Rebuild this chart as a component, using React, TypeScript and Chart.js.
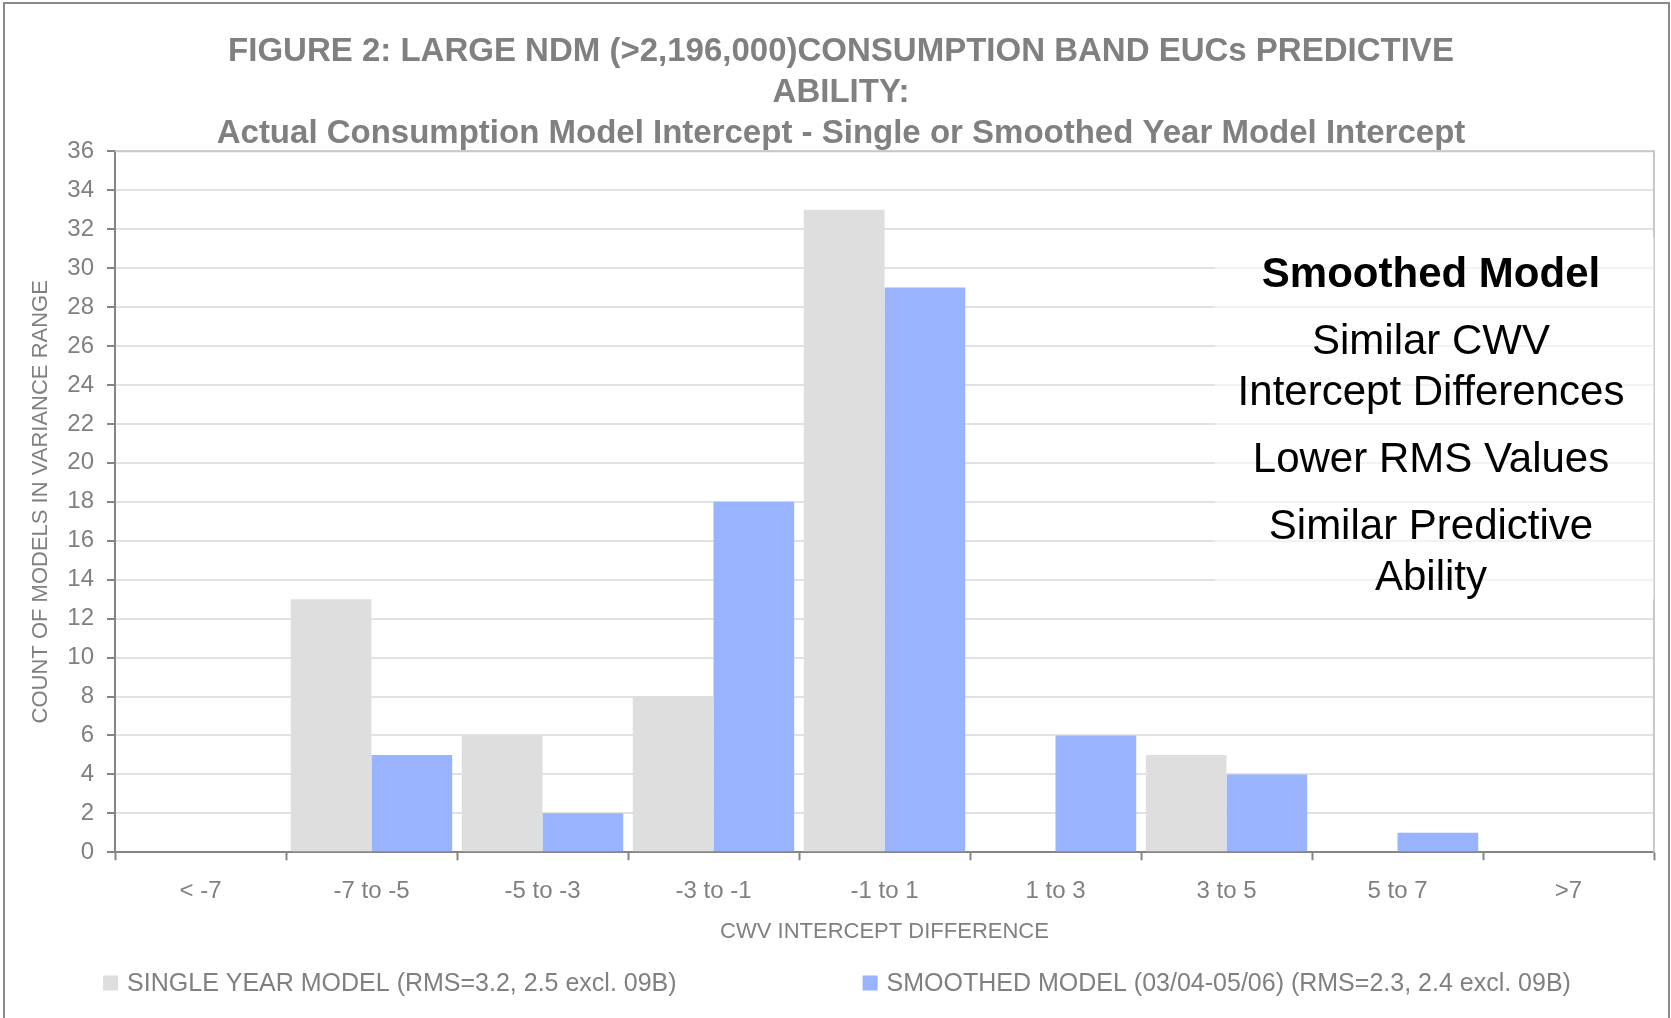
import React, { useEffect, useRef } from 'react';
import { Chart, registerables } from 'chart.js';

Chart.register(...registerables);

// ---- data ----
const categories = ['< -7', '-7 to -5', '-5 to -3', '-3 to -1', '-1 to 1', '1 to 3', '3 to 5', '5 to 7', '>7'];
const singleYearCounts = [0, 13, 6, 8, 33, 0, 5, 0, 0];
const smoothedCounts = [0, 5, 2, 18, 29, 6, 4, 1, 0];
const seriesLabels = [
  'SINGLE YEAR MODEL (RMS=3.2, 2.5 excl. 09B)',
  'SMOOTHED MODEL (03/04-05/06) (RMS=2.3, 2.4 excl. 09B)',
];
const titleLines = [
  'FIGURE 2: LARGE NDM (>2,196,000)CONSUMPTION BAND EUCs PREDICTIVE',
  'ABILITY:',
  'Actual Consumption Model Intercept - Single or Smoothed Year Model Intercept',
];
const yAxisTitle = 'COUNT OF MODELS IN VARIANCE RANGE';
const xAxisTitle = 'CWV INTERCEPT DIFFERENCE';
const noteHeading = 'Smoothed Model';
const noteGroups = [['Similar CWV', 'Intercept Differences'], ['Lower RMS Values'], ['Similar Predictive', 'Ability']];
const yMin = 0;
const yMax = 36;
const yStep = 2;

// ---- styling ----
const FONT = '"Liberation Sans", Arial, Helvetica, sans-serif';
const GREY_TEXT = '#808080';
const AXIS_COLOR = '#858585';
const GRID_COLOR = '#e2e2e2';
const SINGLE_COLOR = '#dedede';
const SMOOTH_COLOR = '#99b3ff';
const W = 1671;
const H = 1018;

// outer frame + plot border lines
const framePlugin = {
  id: 'frame',
  beforeDraw(chart: any) {
    const { ctx } = chart;
    ctx.save();
    ctx.fillStyle = '#ffffff';
    ctx.fillRect(0, 0, chart.width, chart.height);
    ctx.strokeStyle = '#8a8a8a';
    ctx.lineWidth = 2;
    ctx.strokeRect(4, 3, chart.width - 6, chart.height + 10);
    ctx.restore();
  },
  beforeDatasetsDraw(chart: any) {
    const { ctx, chartArea: a } = chart;
    ctx.save();
    ctx.strokeStyle = '#c8c8c8';
    ctx.lineWidth = 2;
    ctx.beginPath();
    ctx.moveTo(a.left, a.top);
    ctx.lineTo(a.right, a.top);
    ctx.lineTo(a.right, a.bottom);
    ctx.stroke();
    ctx.restore();
  },
};

// commentary box on the right of the plot
const notePlugin = {
  id: 'note',
  afterDatasetsDraw(chart: any) {
    const { ctx, chartArea: a } = chart;
    ctx.save();
    ctx.fillStyle = 'rgba(255,255,255,0.55)';
    ctx.fillRect(a.right - 439, a.top + 86, 439, 362);
    const cx = a.right - 223;
    ctx.textAlign = 'center';
    ctx.textBaseline = 'middle';
    ctx.fillStyle = '#000000';
    let y = a.top + 124;
    ctx.font = `bold 42px ${FONT}`;
    ctx.fillText(noteHeading, cx, y);
    ctx.font = `42px ${FONT}`;
    noteGroups.forEach((group) => {
      y += 67;
      group.forEach((line, i) => {
        if (i > 0) y += 51;
        ctx.fillText(line, cx, y);
      });
    });
    ctx.restore();
  },
};

// single-row legend under the axis title
const legendPlugin = {
  id: 'bottomLegend',
  afterDraw(chart: any) {
    const { ctx } = chart;
    const box = 15;
    const textGap = 9;
    const itemGap = 186;
    ctx.save();
    ctx.font = `25px ${FONT}`;
    const items = chart.data.datasets.map((ds: any) => ({ label: ds.label, color: ds.backgroundColor }));
    const widths = items.map((it: any) => box + textGap + ctx.measureText(it.label).width);
    const total = widths.reduce((s: number, w: number) => s + w, 0) + itemGap * (items.length - 1);
    let x = 837 - total / 2;
    const y = 983;
    ctx.textBaseline = 'middle';
    ctx.textAlign = 'left';
    items.forEach((it: any, i: number) => {
      ctx.fillStyle = it.color;
      ctx.fillRect(x, y - box / 2, box, box);
      ctx.fillStyle = GREY_TEXT;
      ctx.fillText(it.label, x + box + textGap, y + 1);
      x += widths[i] + itemGap;
    });
    ctx.restore();
  },
};

export default function App() {
  const canvasRef = useRef<HTMLCanvasElement | null>(null);

  useEffect(() => {
    if (!canvasRef.current) return;
    Chart.defaults.font.family = FONT;
    const chart = new Chart(canvasRef.current, {
      type: 'bar',
      data: {
        labels: categories,
        datasets: [
          {
            label: seriesLabels[0],
            data: singleYearCounts,
            backgroundColor: SINGLE_COLOR,
            borderWidth: 0,
            categoryPercentage: 0.944,
            barPercentage: 1.0,
          },
          {
            label: seriesLabels[1],
            data: smoothedCounts,
            backgroundColor: SMOOTH_COLOR,
            borderWidth: 0,
            categoryPercentage: 0.944,
            barPercentage: 1.0,
          },
        ],
      },
      options: {
        responsive: false,
        animation: false,
        devicePixelRatio: 1,
        layout: { padding: { left: 28, right: 17, top: 0, bottom: 73 } },
        plugins: {
          legend: { display: false },
          tooltip: { enabled: false },
          title: {
            display: true,
            text: titleLines,
            color: GREY_TEXT,
            font: { size: 33, weight: 'bold', lineHeight: 1.245 },
            padding: { top: 31, bottom: -3 },
          },
        },
        scales: {
          x: {
            offset: true,
            grid: {
              offset: true,
              drawOnChartArea: false,
              drawTicks: true,
              tickLength: 8,
              tickColor: AXIS_COLOR,
              tickWidth: 2,
            },
            border: { display: true, color: AXIS_COLOR, width: 2 },
            ticks: { color: GREY_TEXT, font: { size: 24 }, padding: 17, maxRotation: 0, autoSkip: false },
            title: {
              display: true,
              text: xAxisTitle,
              color: GREY_TEXT,
              font: { size: 22, lineHeight: 1.2 },
              padding: { top: 0, bottom: 0 },
            },
            afterFit: (scale: any) => {
              scale.height = 92.7;
            },
          },
          y: {
            min: yMin,
            max: yMax,
            grid: {
              color: GRID_COLOR,
              lineWidth: 2,
              drawTicks: true,
              tickLength: 8,
              tickColor: AXIS_COLOR,
              tickWidth: 2,
            },
            border: { display: true, color: AXIS_COLOR, width: 2 },
            ticks: { stepSize: yStep, color: GREY_TEXT, font: { size: 24 }, padding: 13, autoSkip: false },
            title: {
              display: true,
              text: yAxisTitle,
              color: GREY_TEXT,
              font: { size: 22, lineHeight: 1.2 },
              padding: { top: 0, bottom: 0 },
            },
            afterFit: (scale: any) => {
              scale.width = 87;
            },
          },
        },
      },
      plugins: [framePlugin, notePlugin, legendPlugin],
    });
    return () => chart.destroy();
  }, []);

  return (
    <div style={{ position: 'fixed', left: 0, top: 0, width: W, height: H, background: '#ffffff' }}>
      <canvas ref={canvasRef} width={W} height={H} style={{ display: 'block', width: W, height: H }} />
    </div>
  );
}
